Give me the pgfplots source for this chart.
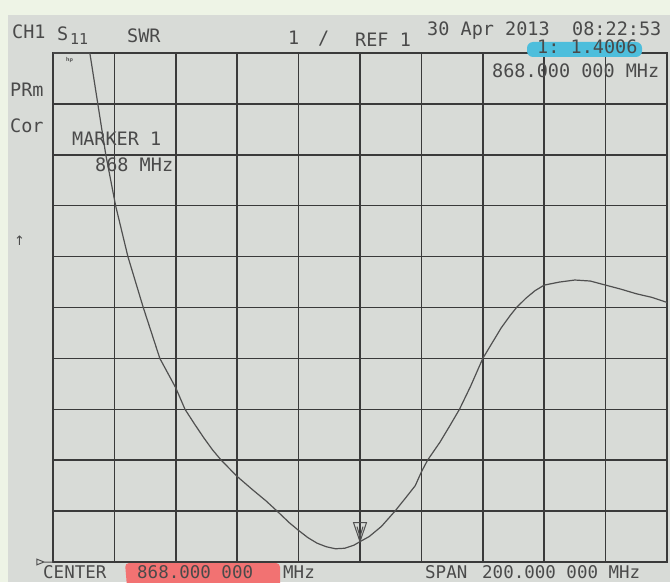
\documentclass[border=0pt]{standalone}
\usepackage{pgfplots}
\pgfplotsset{compat=1.18}
\usepackage{fontspec}
\setmonofont{DejaVu Sans Mono}
\newfontfamily\symfont{DejaVu Sans}
\definecolor{paper}{HTML}{D8DBD7}
\definecolor{edge}{HTML}{EEF4E6}
\definecolor{ink}{HTML}{4A4A4A}
\definecolor{gridc}{HTML}{3A3A3A}
\definecolor{tracec}{HTML}{505050}
\definecolor{hlblue}{HTML}{4DBEDC}
\definecolor{hlred}{HTML}{F27272}

\pgfdeclareplotmark{hpmark}{%
  \pgfpathmoveto{\pgfpoint{0pt}{0pt}}%
  \pgfpathlineto{\pgfpoint{-6.5pt}{19pt}}%
  \pgfpathlineto{\pgfpoint{6.5pt}{19pt}}%
  \pgfpathclose
  \pgfpathmoveto{\pgfpoint{-3pt}{15pt}}%
  \pgfpathlineto{\pgfpoint{0pt}{5pt}}%
  \pgfpathlineto{\pgfpoint{3pt}{15pt}}%
  \pgfusepathqstroke}
\pgfdeclareplotmark{refmark}{%
  \pgfpathmoveto{\pgfpoint{-16pt}{2.8pt}}%
  \pgfpathlineto{\pgfpoint{-16pt}{-2.8pt}}%
  \pgfpathlineto{\pgfpoint{-9pt}{0pt}}%
  \pgfpathclose
  \pgfpathmoveto{\pgfpoint{-9pt}{0pt}}%
  \pgfpathlineto{\pgfpoint{0pt}{0pt}}%
  \pgfusepathqstroke}

\begin{document}
\begin{tikzpicture}[x=1pt,y=1pt,
  lbl/.style={inner sep=0pt,anchor=base west,text=ink,font=\ttfamily\fontsize{18.5}{20}\selectfont},
  flbl/.style={inner sep=0pt,anchor=base west,text=ink,font=\ttfamily\fontsize{17.5}{19}\selectfont}]
\clip (0,0) rectangle (670,582);
\fill[edge] (0,0) rectangle (670,582);
\fill[paper] (8,0) rectangle (670,567);

\begin{axis}[
  at={(53pt,20pt)}, anchor=south west,
  width=614pt, height=509pt, scale only axis,
  xmin=768, xmax=968, ymin=1, ymax=11,
  xtick={768,788,...,968}, ytick={1,2,...,11},
  xticklabels={}, yticklabels={},
  major tick length=0pt,
  grid=major,
  major grid style={line width=1.5pt,color=gridc},
  axis line style={line width=1.6pt,color=gridc},
  clip=false,
]
\addplot[tracec, line width=1.2pt, line join=round] coordinates {
(768,11) (780,11) (782.6,10) (785.2,9) (788.4,8) (792.4,7) (797.4,6)
(802.8,5) (808,4.42) (811,4.0) (814,3.72) (817,3.45) (820,3.2) (822.8,3.0)
(828,2.68) (833,2.42) (837.4,2.2) (841,2.0) (845,1.77) (848,1.62) (851,1.48)
(854,1.37) (857,1.30) (860,1.26) (863,1.27) (866,1.33) (868,1.40) (871,1.50)
(875,1.70) (879.4,2.0) (883,2.27) (886,2.5) (888,2.77) (890,3.0) (894,3.35)
(897,3.65) (900.4,4.0) (904,4.45) (908,5.0) (911,5.3) (914,5.6) (917,5.85)
(919,6.0) (922,6.18) (925,6.33) (928,6.44) (933,6.5) (938,6.54) (943,6.52)
(948,6.44) (953,6.36) (958,6.27) (963,6.2) (968,6.1)
};
\addplot[only marks, mark=hpmark, mark options={draw=tracec,line width=1pt}] coordinates {(868,1.40)};
\addplot[only marks, mark=refmark, mark options={draw=tracec,line width=1pt}] coordinates {(768,1)};
\end{axis}

% header texts
\node[lbl] at (12,543) {CH1};
\node[lbl] at (57,541) {S};
\node[lbl,font=\ttfamily\fontsize{15}{16}\selectfont] at (70,537) {11};
\node[lbl] at (127,539) {SWR};
\node[lbl] at (288,537) {1};
\node[lbl] at (318,537) {/};
\node[lbl] at (355,535) {REF 1};
\node[lbl] at (427,546) {30 Apr 2013};
\node[lbl] at (572,546) {08:22:53};
\fill[hlblue,rounded corners=6pt] (527,525) rectangle (642,540);
\node[lbl] at (537,528) {1: 1.4006};
\node[lbl] at (492,504) {868.000 000 MHz};
\node[lbl] at (10,485) {PRm};
\node[lbl] at (10,449) {Cor};
\node[inner sep=0pt,anchor=base west,text=ink,font=\symfont\fontsize{13}{14}\selectfont] at (14,336) {↑};
\node[inner sep=0pt,anchor=base west,text=ink,font=\sffamily\bfseries\fontsize{6}{7}\selectfont] at (66,520) {hp};
\node[lbl] at (72,436) {MARKER 1};
\node[lbl] at (95,410) {868 MHz};

% footer texts
\node[flbl] at (43,4) {CENTER};
\fill[hlred,rounded corners=4pt] (127,-5) -- (125,19) -- (280,19) -- (280,-5) -- cycle;
\node[flbl] at (137,4) {868.000 000};
\node[flbl] at (283,4) {MHz};
\node[flbl] at (425,4) {SPAN};
\node[flbl] at (482,4) {200.000 000 MHz};
\end{tikzpicture}
\end{document}
